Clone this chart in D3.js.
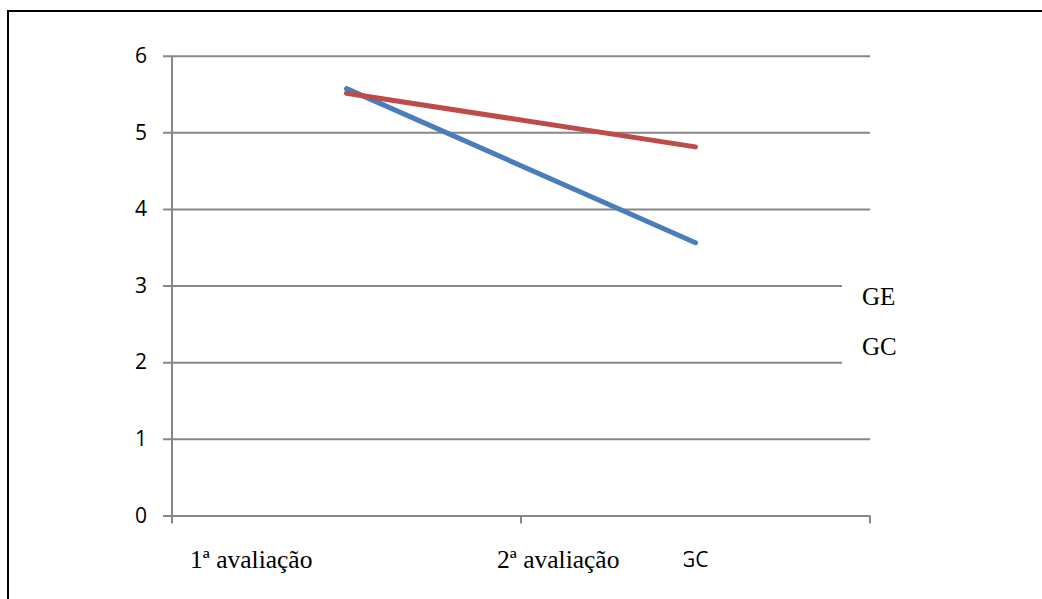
<!DOCTYPE html>
<html>
<head>
<meta charset="utf-8">
<script src="https://cdn.jsdelivr.net/npm/d3@7/dist/d3.min.js"></script>
<style>
	body { margin: 0; background: #fff; }
	svg { display: block; }
	.serif { font-family: "Liberation Serif", "DejaVu Serif", serif; }
	.sans { font-family: "Open Sans", "Noto Sans", sans-serif; }
</style>
</head>
<body>
<div id="chart"></div>
<script>
	'use strict';
	// chart data
	var categories = ['1ª avaliação', '2ª avaliação'];
	var yTicks = [0, 1, 2, 3, 4, 5, 6];
	var seriesBlue = [5.57, 3.56];
	var seriesRed = [5.51, 4.81];
	var legendLabels = ['GE', 'GC'];
	var strayLabel = 'GC';

	var width = 1042, height = 599;
	var plot = {left: 172, right: 870, top: 55.7, bottom: 515.5};

	var svg = d3.select('#chart')
		.append('svg')
		.attr('width', width)
		.attr('height', height);

	// outer frame (top and left edges only visible)
	svg.append('path')
		.attr('d', 'M8,' + height + 'V11H' + width)
		.attr('fill', 'none')
		.attr('stroke', '#000')
		.attr('stroke-width', 2);

	var x = d3.scaleBand()
		.domain(categories)
		.range([plot.left, plot.right])
		.padding(0);

	var y = d3.scaleLinear()
		.domain([0, 6])
		.range([plot.bottom, plot.top]);

	// gridlines + y axis
	var yAxis = svg.append('g')
		.attr('transform', 'translate(' + plot.left + ',0)')
		.call(d3.axisLeft(y).tickValues(yTicks).tickSize(9).tickPadding(16).tickFormat(d3.format('d')));
	yAxis.select('.domain').remove();
	yAxis.selectAll('.tick line')
		.attr('x2', plot.right - plot.left)
		.attr('x1', -9)
		.attr('stroke', '#878787')
		.attr('stroke-width', 2);
	yAxis.selectAll('.tick text')
		.attr('class', 'sans')
		.attr('font-family', null)
		.attr('font-size', 21)
		.attr('fill', '#000');

	svg.append('line')
		.attr('x1', plot.left).attr('x2', plot.left)
		.attr('y1', plot.top).attr('y2', plot.bottom)
		.attr('stroke', '#878787')
		.attr('stroke-width', 2);

	// x axis ticks at band edges
	var edges = categories.map(function (c) { return x(c); }).concat([plot.right]);
	svg.append('g')
		.selectAll('line')
		.data(edges)
		.enter().append('line')
		.attr('x1', function (d) { return d; })
		.attr('x2', function (d) { return d; })
		.attr('y1', plot.bottom)
		.attr('y2', plot.bottom + 8)
		.attr('stroke', '#878787')
		.attr('stroke-width', 2);

	// series lines
	var line = d3.line()
		.x(function (d, i) { return x(categories[i]) + x.bandwidth() / 2; })
		.y(function (d) { return y(d); });

	svg.append('path')
		.datum(seriesBlue)
		.attr('d', line)
		.attr('fill', 'none')
		.attr('stroke', '#4A7EBB')
		.attr('stroke-width', 5)
		.attr('stroke-linecap', 'round');

	svg.append('path')
		.datum(seriesRed)
		.attr('d', line)
		.attr('fill', 'none')
		.attr('stroke', '#BE4B48')
		.attr('stroke-width', 5)
		.attr('stroke-linecap', 'round');

	// legend box (covers the grid on the right)
	svg.append('rect')
		.attr('x', 842).attr('y', 262)
		.attr('width', 150).attr('height', 115)
		.attr('fill', '#fff');
	svg.append('g')
		.selectAll('text')
		.data(legendLabels)
		.enter().append('text')
		.attr('class', 'serif')
		.attr('x', 862)
		.attr('y', function (d, i) { return 305 + i * 50; })
		.attr('font-size', 25)
		.text(function (d) { return d; });

	// category labels
	var labelX = [190, 497];
	svg.append('g')
		.selectAll('text')
		.data(categories)
		.enter().append('text')
		.attr('class', 'serif')
		.attr('x', function (d, i) { return labelX[i]; })
		.attr('y', 568)
		.attr('font-size', 25.5)
		.text(function (d) { return d; });

	// clipped text box at bottom
	svg.append('clipPath').attr('id', 'gcClip')
		.append('rect').attr('x', 684).attr('y', 540).attr('width', 60).attr('height', 40);
	svg.append('text')
		.attr('class', 'sans')
		.attr('x', 680)
		.attr('y', 567)
		.attr('clip-path', 'url(#gcClip)')
		.attr('font-size', 21)
		.text(strayLabel);
</script>
</body>
</html>
